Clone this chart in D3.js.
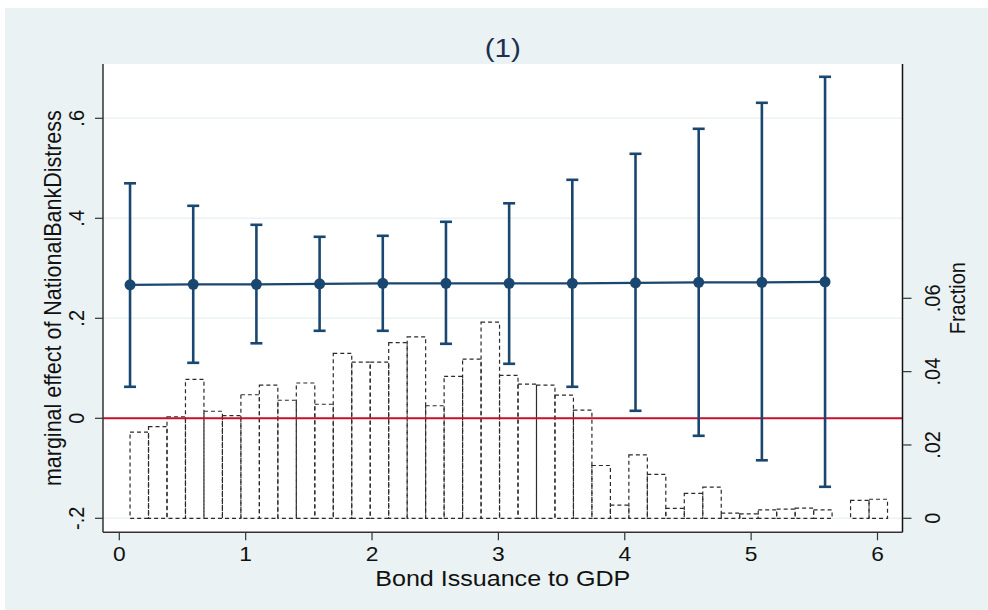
<!DOCTYPE html>
<html>
<head>
<meta charset="utf-8">
<script src="https://cdn.jsdelivr.net/npm/d3@7"></script>
<style>
  html, body { margin: 0; padding: 0; background: #ffffff; }
  svg { display: block; font-family: "Liberation Sans", Arial, sans-serif; }
</style>
</head>
<body>
<svg id="chart" width="988" height="610"></svg>
<script>
// ---- data ----
const binStart = 0.085;
const binWidth = 0.1462;
const histFraction = [0.0235, 0.025, 0.0277, 0.0379, 0.0292, 0.028, 0.0337, 0.0363, 0.0322, 0.0369,
  0.0311, 0.045, 0.0426, 0.0426, 0.0479, 0.0495, 0.0307, 0.0387, 0.0434, 0.0535,
  0.039, 0.0366, 0.0363, 0.0336, 0.0295, 0.0144, 0.0036, 0.0173, 0.012, 0.0027,
  0.0068, 0.0085, 0.0014, 0.0012, 0.0023, 0.0025, 0.0028, 0.0023, 0, 0.0049, 0.0052];
const bondX = [0.085, 0.585, 1.085, 1.585, 2.085, 2.585, 3.085, 3.585, 4.085, 4.585, 5.085, 5.585];
const estimate = [0.267, 0.268, 0.268, 0.269, 0.270, 0.270, 0.270, 0.270, 0.271, 0.272, 0.272, 0.273];
const lower = [0.063, 0.111, 0.150, 0.175, 0.175, 0.149, 0.109, 0.063, 0.015, -0.035, -0.084, -0.137];
const upper = [0.470, 0.425, 0.387, 0.363, 0.365, 0.393, 0.430, 0.477, 0.529, 0.579, 0.631, 0.683];
const xTicks = [0, 1, 2, 3, 4, 5, 6];
const yLeftTicks = [-0.2, 0, 0.2, 0.4, 0.6];
const yLeftLabels = ["-.2", "0", ".2", ".4", ".6"];
const yRightTicks = [0, 0.02, 0.04, 0.06];
const yRightLabels = ["0", ".02", ".04", ".06"];
const titleText = "(1)";
const xTitle = "Bond Issuance to GDP";
const yLeftTitle = "marginal effect of NationalBankDistress";
const yRightTitle = "Fraction";

// ---- layout ----
const plot = { left: 103, right: 902.5, top: 64, bottom: 532.3 };
const navy = "#1a476f";
const bg = "#eaf2f3";
const stretch = 1.14; // horizontal text stretch seen in the reference

const svg = d3.select("#chart");
svg.append("rect").attr("x", 5).attr("y", 8).attr("width", 983).attr("height", 602).attr("fill", bg);
svg.append("rect").attr("x", plot.left).attr("y", plot.top)
  .attr("width", plot.right - plot.left).attr("height", plot.bottom - plot.top).attr("fill", "#ffffff");

const x = d3.scaleLinear().domain([0, 6]).range([119.3, 877.5]);
const yL = d3.scaleLinear().domain([-0.2, 0.6]).range([518.3, 118.3]);
const yR = d3.scaleLinear().domain([0, 0.06]).range([518.3, 298.3]);

// gridlines
svg.append("g").selectAll("line").data(yLeftTicks).join("line")
  .attr("x1", plot.left).attr("x2", plot.right)
  .attr("y1", d => yL(d)).attr("y2", d => yL(d))
  .attr("stroke", bg).attr("stroke-width", 1.6);

// histogram
const bins = histFraction.map((f, i) => ({ x0: binStart + i * binWidth, x1: binStart + (i + 1) * binWidth, f }));
svg.append("g").selectAll("rect").data(bins.filter(b => b.f > 0)).join("rect")
  .attr("x", d => x(d.x0)).attr("width", d => x(d.x1) - x(d.x0))
  .attr("y", d => yR(d.f)).attr("height", d => yR(0) - yR(d.f))
  .attr("fill", "none").attr("stroke", "#2b2b2b").attr("stroke-width", 1.2)
  .attr("stroke-dasharray", "4,3");

// zero line
svg.append("line").attr("x1", plot.left).attr("x2", plot.right)
  .attr("y1", yL(0)).attr("y2", yL(0)).attr("stroke", "#c8102e").attr("stroke-width", 2);

// error bars
const pts = bondX.map((v, i) => ({ x: v, e: estimate[i], lo: lower[i], hi: upper[i] }));
const eb = svg.append("g").attr("stroke", navy).attr("stroke-width", 2.6);
eb.selectAll("line.v").data(pts).join("line").attr("class", "v")
  .attr("x1", d => x(d.x)).attr("x2", d => x(d.x))
  .attr("y1", d => yL(d.lo)).attr("y2", d => yL(d.hi));
eb.selectAll("line.t").data(pts).join("line").attr("class", "t")
  .attr("x1", d => x(d.x) - 6).attr("x2", d => x(d.x) + 6)
  .attr("y1", d => yL(d.hi)).attr("y2", d => yL(d.hi));
eb.selectAll("line.b").data(pts).join("line").attr("class", "b")
  .attr("x1", d => x(d.x) - 6).attr("x2", d => x(d.x) + 6)
  .attr("y1", d => yL(d.lo)).attr("y2", d => yL(d.lo));

// estimate line and markers
svg.append("path").datum(pts)
  .attr("d", d3.line().x(d => x(d.x)).y(d => yL(d.e)))
  .attr("fill", "none").attr("stroke", navy).attr("stroke-width", 2.2);
svg.append("g").selectAll("circle").data(pts).join("circle")
  .attr("cx", d => x(d.x)).attr("cy", d => yL(d.e)).attr("r", 5.5).attr("fill", navy);

// axes
const axisColor = "#333333";
svg.append("line").attr("x1", plot.left).attr("x2", plot.left).attr("y1", plot.top).attr("y2", plot.bottom)
  .attr("stroke", axisColor).attr("stroke-width", 1.5);
svg.append("line").attr("x1", plot.right).attr("x2", plot.right).attr("y1", plot.top).attr("y2", plot.bottom)
  .attr("stroke", "#111").attr("stroke-width", 1.5);
svg.append("line").attr("x1", plot.left).attr("x2", plot.right).attr("y1", plot.bottom).attr("y2", plot.bottom)
  .attr("stroke", axisColor).attr("stroke-width", 1.5);

const textFill = "#111111";
// left ticks
const gl = svg.append("g");
gl.selectAll("line").data(yLeftTicks).join("line")
  .attr("x1", plot.left - 8).attr("x2", plot.left).attr("y1", d => yL(d)).attr("y2", d => yL(d))
  .attr("stroke", axisColor).attr("stroke-width", 1.2);
gl.selectAll("text").data(yLeftTicks).join("text")
  .attr("transform", d => `translate(84,${yL(d)}) scale(${stretch},1) rotate(-90)`)
  .attr("text-anchor", "middle").attr("font-size", 20).attr("fill", textFill)
  .text((d, i) => yLeftLabels[i]);
// right ticks
const gr = svg.append("g");
gr.selectAll("line").data(yRightTicks).join("line")
  .attr("x1", plot.right).attr("x2", plot.right + 9).attr("y1", d => yR(d)).attr("y2", d => yR(d))
  .attr("stroke", axisColor).attr("stroke-width", 1.2);
gr.selectAll("text").data(yRightTicks).join("text")
  .attr("transform", d => `translate(940,${yR(d)}) scale(${stretch},1) rotate(-90)`)
  .attr("text-anchor", "middle").attr("font-size", 20).attr("fill", textFill)
  .text((d, i) => yRightLabels[i]);
// x ticks
const gx = svg.append("g");
gx.selectAll("line").data(xTicks).join("line")
  .attr("x1", d => x(d)).attr("x2", d => x(d)).attr("y1", plot.bottom).attr("y2", plot.bottom + 8)
  .attr("stroke", axisColor).attr("stroke-width", 1.2);
gx.selectAll("text").data(xTicks).join("text")
  .attr("transform", d => `translate(${x(d)},561) scale(${stretch},1)`)
  .attr("text-anchor", "middle").attr("font-size", 20).attr("fill", textFill)
  .text(d => d3.format("d")(d));

// titles
svg.append("text").attr("transform", `translate(${(plot.left + plot.right) / 2},57) scale(${stretch},1)`)
  .attr("text-anchor", "middle").attr("font-size", 26).attr("fill", "#1e2f4f").text(titleText);
svg.append("text").attr("transform", `translate(${(plot.left + plot.right) / 2},586) scale(${stretch},1)`)
  .attr("text-anchor", "middle").attr("font-size", 22).attr("fill", textFill).text(xTitle);
svg.append("text").attr("transform", `translate(61,${(plot.top + plot.bottom) / 2}) scale(${stretch},1) rotate(-90)`)
  .attr("text-anchor", "middle").attr("font-size", 21.5).attr("fill", textFill).text(yLeftTitle);
svg.append("text").attr("transform", `translate(965,${(plot.top + plot.bottom) / 2}) scale(${stretch},1) rotate(-90)`)
  .attr("text-anchor", "middle").attr("font-size", 20).attr("fill", textFill).text(yRightTitle);
</script>
</body>
</html>
